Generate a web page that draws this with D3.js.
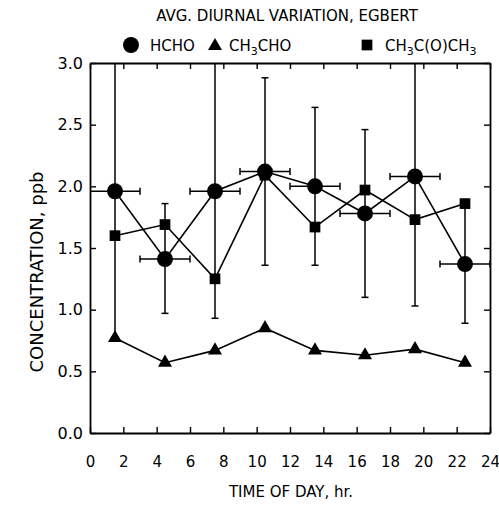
<!DOCTYPE html>
<html>
<head>
<meta charset="utf-8">
<script src="https://cdn.jsdelivr.net/npm/d3@7"></script>
<style>
  body { margin: 0; background: #fff; }
  svg text { font-family: "DejaVu Sans", Arial, sans-serif; fill: #000; }
</style>
</head>
<body>
<svg id="chart" width="499" height="521"></svg>
<script>
// Data
const hours = [1.5, 4.5, 7.5, 10.5, 13.5, 16.5, 19.5, 22.5];
const hcho = [1.96, 1.41, 1.96, 2.12, 2.00, 1.78, 2.08, 1.37];
const hchoLow = [0.78, 0.97, 0.93, 1.36, 1.36, 1.10, 1.03, 0.89];
const hchoHigh = [3.14, 1.86, 3.0, 2.88, 2.64, 2.46, 3.13, 1.85];
const hourErr = 1.5;
const ch3cho = [0.77, 0.57, 0.67, 0.85, 0.67, 0.63, 0.68, 0.57];
const acetone = [1.60, 1.69, 1.25, 2.09, 1.67, 1.97, 1.73, 1.86];
const xTicks = [0, 2, 4, 6, 8, 10, 12, 14, 16, 18, 20, 22, 24];
const yTicks = [0, 0.5, 1.0, 1.5, 2.0, 2.5, 3.0];

const svg = d3.select('#chart');
const mLeft = 90, mRight = 490, mTop = 63, mBottom = 433;

const x = d3.scaleLinear().domain([0, 24]).range([mLeft, mRight]);
const y = d3.scaleLinear().domain([0, 3]).range([mBottom, mTop]);

// clip so the long error bars stop at the frame
svg.append('clipPath').attr('id', 'plot')
  .append('rect').attr('x', mLeft).attr('y', mTop)
  .attr('width', mRight - mLeft).attr('height', mBottom - mTop);

// axes: ticks inside on all four sides
const tickLen = 6;
svg.append('g').attr('transform', `translate(0,${mBottom})`)
  .call(d3.axisBottom(x).tickValues(xTicks).tickSizeInner(-tickLen).tickSizeOuter(0).tickPadding(23).tickFormat(d3.format('d')));
svg.append('g').attr('transform', `translate(0,${mTop})`)
  .call(d3.axisTop(x).tickValues(xTicks).tickSizeInner(-tickLen).tickSizeOuter(0).tickFormat(''));
svg.append('g').attr('transform', `translate(${mLeft},0)`)
  .call(d3.axisLeft(y).tickValues(yTicks).tickSizeInner(-tickLen).tickSizeOuter(0).tickPadding(7).tickFormat(d3.format('.1f')));
svg.append('g').attr('transform', `translate(${mRight},0)`)
  .call(d3.axisRight(y).tickValues(yTicks).tickSizeInner(-tickLen).tickSizeOuter(0).tickFormat(''));

svg.selectAll('.domain').attr('stroke', '#000').attr('stroke-width', 1.8);
svg.selectAll('.tick line').attr('stroke', '#000').attr('stroke-width', 1.4);
svg.selectAll('.tick text').attr('font-size', 16).attr('fill', '#000')
  .attr('font-family', '"DejaVu Sans", Arial, sans-serif');
// x labels a bit smaller so "24" stays inside the page
svg.select('g').selectAll('.tick text').attr('font-size', 15);

const plot = svg.append('g').attr('clip-path', 'url(#plot)');
const line = d3.line().x(d => x(d[0])).y(d => y(d[1]));

// HCHO error bars
const cap = 3.5;
hours.forEach((h, i) => {
  const g = plot.append('g').attr('stroke', '#000').attr('stroke-width', 1.5);
  g.append('line').attr('x1', x(h)).attr('x2', x(h)).attr('y1', y(hchoLow[i])).attr('y2', y(hchoHigh[i]));
  [hchoLow[i], hchoHigh[i]].forEach(v => {
    g.append('line').attr('x1', x(h) - cap).attr('x2', x(h) + cap).attr('y1', y(v)).attr('y2', y(v));
  });
  g.append('line').attr('x1', x(h - hourErr)).attr('x2', x(h + hourErr)).attr('y1', y(hcho[i])).attr('y2', y(hcho[i]));
  [h - hourErr, h + hourErr].forEach(v => {
    g.append('line').attr('x1', x(v)).attr('x2', x(v)).attr('y1', y(hcho[i]) - cap).attr('y2', y(hcho[i]) + cap);
  });
});

// connecting lines
[hcho, ch3cho, acetone].forEach(vals => {
  plot.append('path')
    .attr('d', line(hours.map((h, i) => [h, vals[i]])))
    .attr('fill', 'none').attr('stroke', '#000').attr('stroke-width', 1.6);
});

const circ = d3.symbol().type(d3.symbolCircle).size(200);
const tri = d3.symbol().type(d3.symbolTriangle).size(85);
const sq = d3.symbol().type(d3.symbolSquare).size(115);

function markers(vals, sym) {
  svg.append('g').selectAll('path').data(vals).join('path')
    .attr('d', sym)
    .attr('transform', (d, i) => `translate(${x(hours[i])},${y(d)})`)
    .attr('fill', '#000');
}
markers(hcho, circ);
markers(acetone, sq);
markers(ch3cho, tri);

// title
svg.append('text').attr('x', 287).attr('y', 21).attr('text-anchor', 'middle')
  .attr('font-size', 15).text('AVG. DIURNAL VARIATION, EGBERT');

// legend
const legY = 45;
svg.append('path').attr('d', circ).attr('transform', `translate(131,${legY})`);
svg.append('text').attr('x', 150).attr('y', legY + 5.5).attr('font-size', 15).text('HCHO');
svg.append('path').attr('d', tri).attr('transform', `translate(215,${legY + 1})`);
const t2 = svg.append('text').attr('x', 229).attr('y', legY + 5.5).attr('font-size', 15);
t2.append('tspan').text('CH');
t2.append('tspan').attr('font-size', 11).attr('dy', 4).text('3');
t2.append('tspan').attr('dy', -4).text('CHO');
svg.append('path').attr('d', sq).attr('transform', `translate(367,${legY})`);
const t3 = svg.append('text').attr('x', 385).attr('y', legY + 5.5).attr('font-size', 15);
t3.append('tspan').text('CH');
t3.append('tspan').attr('font-size', 11).attr('dy', 4).text('3');
t3.append('tspan').attr('dy', -4).text('C(O)CH');
t3.append('tspan').attr('font-size', 11).attr('dy', 4).text('3');

// axis titles
svg.append('text').attr('x', 291).attr('y', 497).attr('text-anchor', 'middle')
  .attr('font-size', 15).text('TIME OF DAY, hr.');
svg.append('text').attr('transform', 'translate(43,272) rotate(-90)').attr('text-anchor', 'middle')
  .attr('font-size', 18).text('CONCENTRATION, ppb');
</script>
</body>
</html>
